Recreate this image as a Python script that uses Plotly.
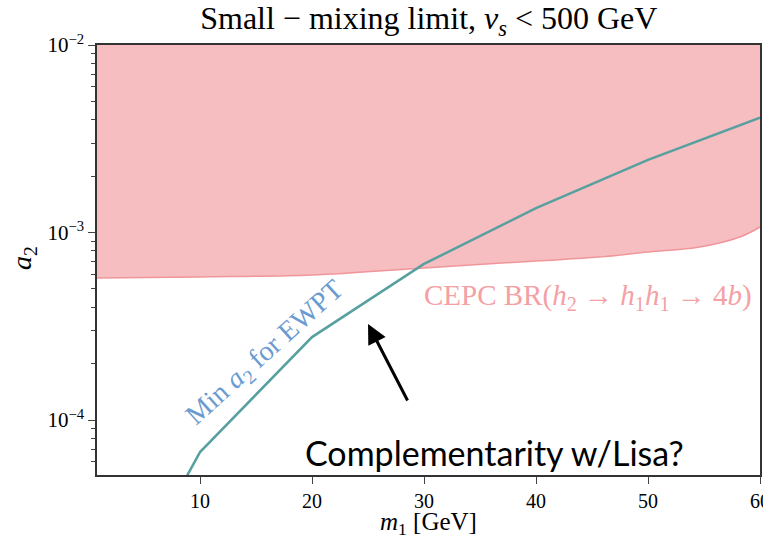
import plotly.graph_objects as go

# Data
ewpt_m1 = [8.8, 10, 20, 30, 40, 50, 60]
ewpt_a2 = [5.0e-5, 6.75e-5, 2.77e-4, 6.8e-4, 1.35e-3, 2.44e-3, 4.1e-3]

cepc_m1 = [0.8, 10, 20, 30, 40, 45.6, 50, 54.6, 58.2, 60]
cepc_a2 = [5.73e-4, 5.8e-4, 5.93e-4, 6.47e-4, 7.05e-4, 7.4e-4, 7.87e-4, 8.37e-4, 9.46e-4, 1.07e-3]
cepc_top = 2e-2

x_ticks = [10, 20, 30, 40, 50, 60]
y_major = [1e-4, 1e-3, 1e-2]
y_major_text = ["10<sup>−4</sup>", "10<sup>−3</sup>", "10<sup>−2</sup>"]
y_minor = [m * 10.0**e for e in (-5, -4, -3) for m in range(2, 10)]

serif = "Liberation Serif"

fig = go.Figure()
fig.add_trace(go.Scatter(x=cepc_m1, y=[cepc_top] * len(cepc_m1), mode="lines",
                         line=dict(width=0), hoverinfo="skip", showlegend=False))
fig.add_trace(go.Scatter(x=cepc_m1, y=cepc_a2, mode="lines", fill="tonexty",
                         fillcolor="rgb(246,190,193)",
                         line=dict(color="rgb(240,150,155)", width=1.5, shape="spline"),
                         showlegend=False))
fig.add_trace(go.Scatter(x=ewpt_m1, y=ewpt_a2, mode="lines",
                         line=dict(color="rgb(88,160,160)", width=2.5),
                         showlegend=False))

# Annotations
arrow_head = (25.0, -3.488)
arrow_tail = (28.6, -3.904)
fig.add_annotation(x=arrow_head[0], y=arrow_head[1], ax=arrow_tail[0], ay=arrow_tail[1],
                   xref="x", yref="y", axref="x", ayref="y", text="", showarrow=True,
                   arrowhead=2, arrowsize=1.3, arrowwidth=3, arrowcolor="black")
fig.add_annotation(x=15.8, y=-3.643, xref="x", yref="y", text="Min <i>a</i><sub>2</sub> for EWPT",
                   showarrow=False, textangle=-42,
                   font=dict(family=serif, size=28, color="rgb(106,155,208)"))
fig.add_annotation(x=44.6, y=-3.344, xref="x", yref="y",
                   text="CEPC BR(<i>h</i><sub>2</sub> → <i>h</i><sub>1</sub><i>h</i><sub>1</sub> → 4<i>b</i>)",
                   showarrow=False,
                   font=dict(family=serif, size=29, color="rgb(244,160,164)"))
fig.add_annotation(x=36.25, y=-4.171, xref="x", yref="y", text="Complementarity w/Lisa?",
                   showarrow=False,
                   font=dict(family="Lato", size=34, color="black"))

# Axis titles
fig.add_annotation(x=0.5, y=-0.113, xref="paper", yref="paper", xanchor="center", yanchor="middle",
                   text="<i>m</i><sub>1</sub> [GeV]", showarrow=False,
                   font=dict(family=serif, size=25, color="black"))
fig.add_annotation(x=-0.11, y=0.505, xref="paper", yref="paper", xanchor="center", yanchor="middle",
                   text="<i>a</i><sub>2</sub>", showarrow=False, textangle=-90,
                   font=dict(family=serif, size=28, color="black"))

fig.update_layout(
    width=763, height=538,
    margin=dict(l=97, r=3, t=45, b=63, autoexpand=False),
    plot_bgcolor="white", paper_bgcolor="white",
    title=dict(text="Small − mixing limit, <i>v</i><sub><i>s</i></sub> < 500 GeV",
               x=0.562, xanchor="center", y=0.966, yanchor="middle",
               font=dict(family=serif, size=32, color="black")),
)
fig.update_xaxes(range=[0.8, 60], tickvals=x_ticks, ticks="outside", ticklen=7,
                 showgrid=False, zeroline=False, showline=True, mirror=True,
                 linecolor="#333", linewidth=1.5, automargin=False,
                 ticklabeloverflow="allow",
                 tickfont=dict(family=serif, size=20, color="black"))
fig.update_yaxes(type="log", range=[-4.293, -2], tickvals=y_major, ticktext=y_major_text,
                 ticks="outside", ticklen=7, showgrid=False, zeroline=False,
                 showline=True, mirror=True, linecolor="#333", linewidth=1.5,
                 automargin=False,
                 minor=dict(tickvals=y_minor, ticks="outside", ticklen=4, showgrid=False),
                 tickfont=dict(family=serif, size=21, color="black"))

fig.write_html("out.html")
